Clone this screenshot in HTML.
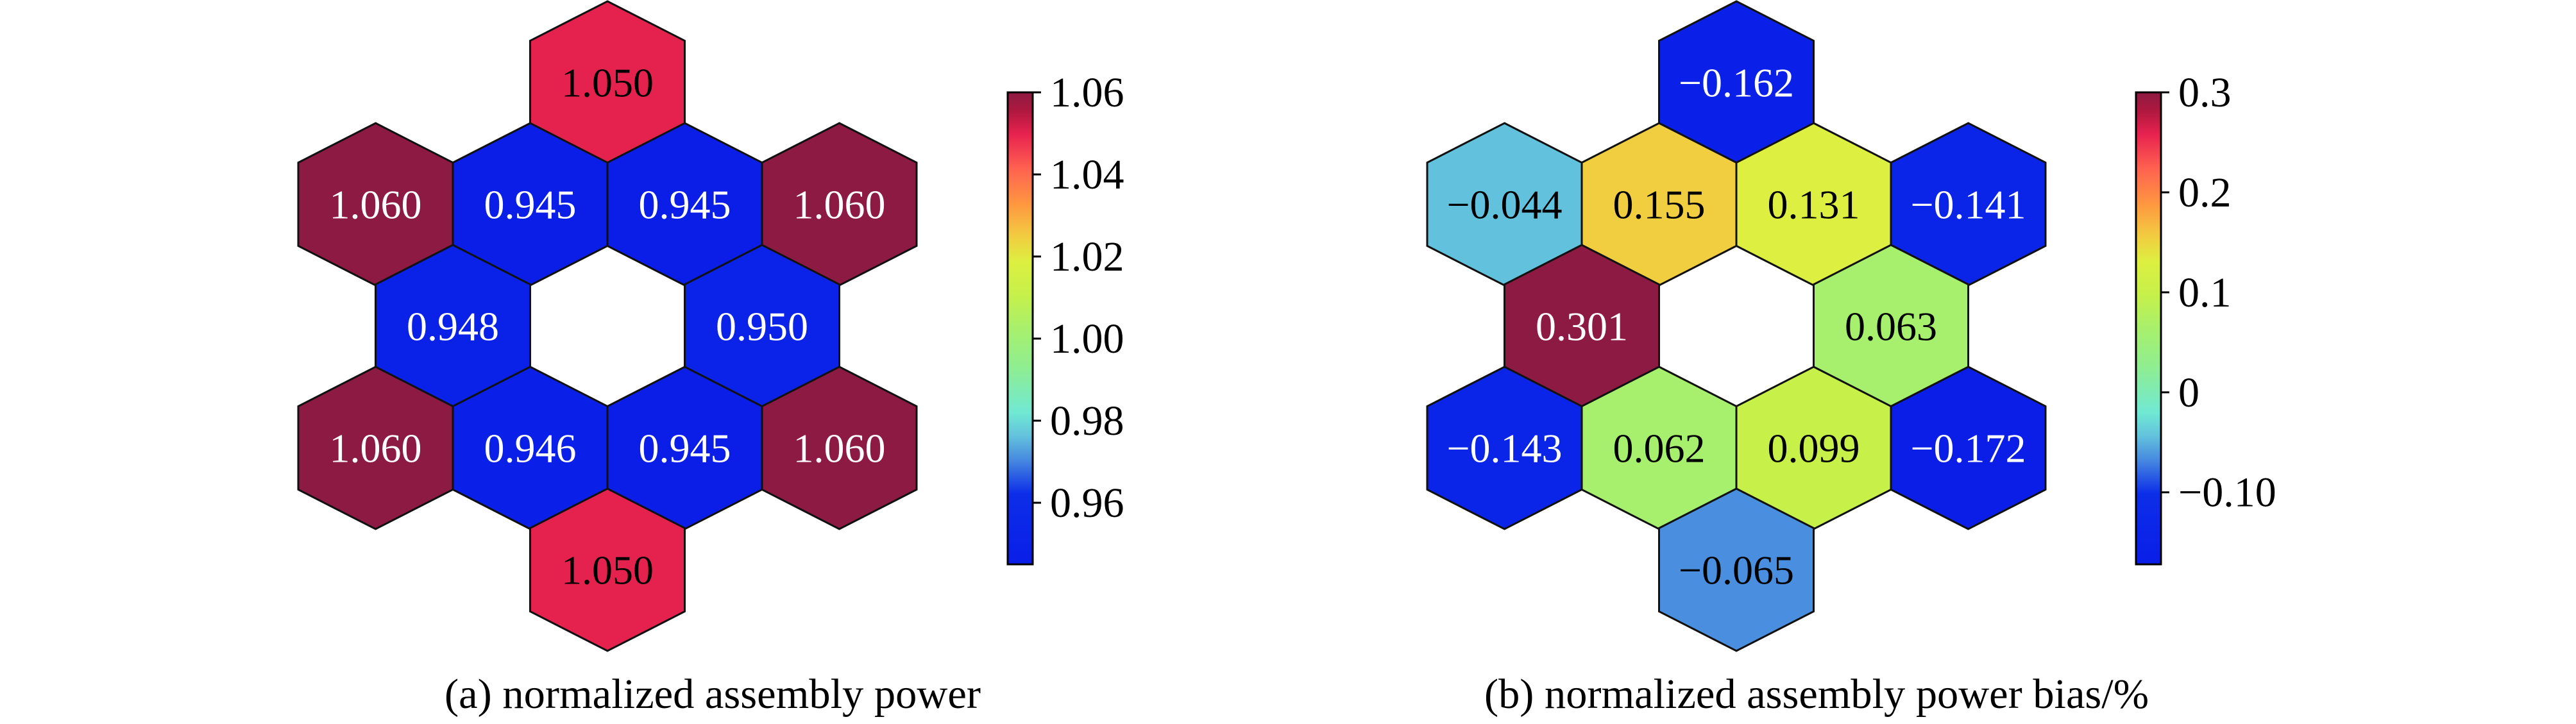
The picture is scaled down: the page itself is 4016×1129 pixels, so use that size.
<!DOCTYPE html>
<html><head><meta charset="utf-8"><style>
html,body{margin:0;padding:0;background:#fff;}
svg{display:block;}
text{font-family:"Liberation Serif",serif;}
</style></head><body>
<svg id="fig" width="4016" height="1129" viewBox="0 0 4016 1129" xmlns="http://www.w3.org/2000/svg">
<defs>
<linearGradient id="cmap" x1="0" y1="1" x2="0" y2="0"></linearGradient>
</defs>
<g id="panelA"></g>
<g id="panelB"></g>
<text x="693" y="1104" font-size="66" textLength="836" lengthAdjust="spacingAndGlyphs">(a) normalized assembly power</text>
<text x="2314" y="1104" font-size="66" textLength="1036" lengthAdjust="spacingAndGlyphs">(b) normalized assembly power bias/%</text>
</svg>
<script>
// Data: values in cell order (top, row2 L→R, row3 L→R, row4 L→R, bottom)
const powerValues = [1.050, 1.060, 0.945, 0.945, 1.060, 0.948, 0.950, 1.060, 0.946, 0.945, 1.060, 1.050];
const powerLabels = ["1.050","1.060","0.945","0.945","1.060","0.948","0.950","1.060","0.946","0.945","1.060","1.050"];
const biasValues = [-0.162, -0.044, 0.155, 0.131, -0.141, 0.301, 0.063, -0.143, 0.062, 0.099, -0.172, -0.065];
const biasLabels = ["\u22120.162","\u22120.044","0.155","0.131","\u22120.141","0.301","0.063","\u22120.143","0.062","0.099","\u22120.172","\u22120.065"];
const powerTicks = [0.96, 0.98, 1.00, 1.02, 1.04, 1.06];
const powerTickLabels = ["0.96","0.98","1.00","1.02","1.04","1.06"];
const biasTicks = [-0.1, 0, 0.1, 0.2, 0.3];
const biasTickLabels = ["\u22120.10","0","0.1","0.2","0.3"];
const powerRange = [0.945, 1.06];
const biasRange = [-0.172, 0.300];

// lattice structure (half-column units, row index)
const cellCol = [0, -3, -1, 1, 3, -2, 2, -3, -1, 1, 3, 0];
const cellRow = [0, 1, 1, 1, 1, 2, 2, 3, 3, 3, 3, 4];

const stops = [[0,"#0A1EE8"],[0.15,"#0C2EE8"],[0.22,"#4688E0"],[0.27,"#62C0DC"],[0.32,"#70E8D4"],[0.42,"#90EE90"],[0.5,"#A8F06C"],[0.57,"#C6F04A"],[0.64,"#DCF040"],[0.69,"#F0D040"],[0.76,"#FF9A40"],[0.84,"#FF6050"],[0.91,"#E8234F"],[0.96,"#B0183F"],[1,"#8C1A42"]];
const NS="http://www.w3.org/2000/svg";
function hx(c){return [1,3,5].map(i=>parseInt(c.substr(i,2),16));}
function cmap(t){
  t=Math.max(0,Math.min(1,t));
  for(let i=1;i<stops.length;i++){
    if(t<=stops[i][0]){
      const a=stops[i-1],b=stops[i];const f=(t-a[0])/(b[0]-a[0]);
      const ca=hx(a[1]),cb=hx(b[1]);
      return "rgb("+ca.map((v,k)=>Math.round(v+(cb[k]-v)*f)).join(",")+")";
    }
  }
  return stops[stops.length-1][1];
}
const grad=document.getElementById('cmap');
stops.forEach(s=>{const st=document.createElementNS(NS,'stop');st.setAttribute('offset',s[0]);st.setAttribute('stop-color',s[1]);grad.appendChild(st);});

const HW=120.5, TIP=126.5, SIDE=65, ROWH=190;
function drawPanel(gid, cx0, cy0, values, labels, range, ticks, tickLabels, cbx){
  const g=document.getElementById(gid);
  const norm=v=>(v-range[0])/(range[1]-range[0]);
  values.forEach((v,i)=>{
    const cx=cx0+cellCol[i]*HW, cy=cy0+cellRow[i]*ROWH;
    const p=document.createElementNS(NS,'polygon');
    
    
    p.setAttribute('points',[[0,-TIP],[HW,-SIDE],[HW,SIDE],[0,TIP],[-HW,SIDE],[-HW,-SIDE]].map(q=>(cx+q[0])+","+(cy+q[1])).join(" "));
    p.setAttribute('fill',cmap(norm(v)));
    p.setAttribute('stroke','#111');p.setAttribute('stroke-width','3');
    g.appendChild(p);
  });
  values.forEach((v,i)=>{
    const cx=cx0+cellCol[i]*HW, cy=cy0+cellRow[i]*ROWH;
    const t=document.createElementNS(NS,'text');
    
    
    t.setAttribute('x',cx);t.setAttribute('y',cy+22);
    t.setAttribute('text-anchor','middle');t.setAttribute('font-size','64');
    const f=norm(v);
    t.setAttribute('fill',(f<0.2||f>0.95)?'#fff':'#000');
    t.textContent=labels[i];
    g.appendChild(t);
  });
  // colorbar
  const top=144,bot=880,h=bot-top;
  const r=document.createElementNS(NS,'rect');
  
  
  r.setAttribute('x',cbx);r.setAttribute('y',top);r.setAttribute('width',39);r.setAttribute('height',h);
  r.setAttribute('fill','url(#cmap)');r.setAttribute('stroke','#000');r.setAttribute('stroke-width','3');
  g.appendChild(r);
  ticks.forEach((tv,i)=>{
    const y=bot-norm(tv)*h;
    const l=document.createElementNS(NS,'line');
    
    
    l.setAttribute('x1',cbx+39);l.setAttribute('x2',cbx+52);l.setAttribute('y1',y);l.setAttribute('y2',y);
    l.setAttribute('stroke','#000');l.setAttribute('stroke-width','3');
    g.appendChild(l);
    const t=document.createElementNS(NS,'text');
    
    
    t.setAttribute('x',cbx+66);t.setAttribute('y',y+22);t.setAttribute('font-size','66');
    t.textContent=tickLabels[i];
    g.appendChild(t);
  });
}
drawPanel('panelA',947,128.5,powerValues,powerLabels,powerRange,powerTicks,powerTickLabels,1571);
drawPanel('panelB',2707,128.5,biasValues,biasLabels,biasRange,biasTicks,biasTickLabels,3330);
</script>
</body></html>
